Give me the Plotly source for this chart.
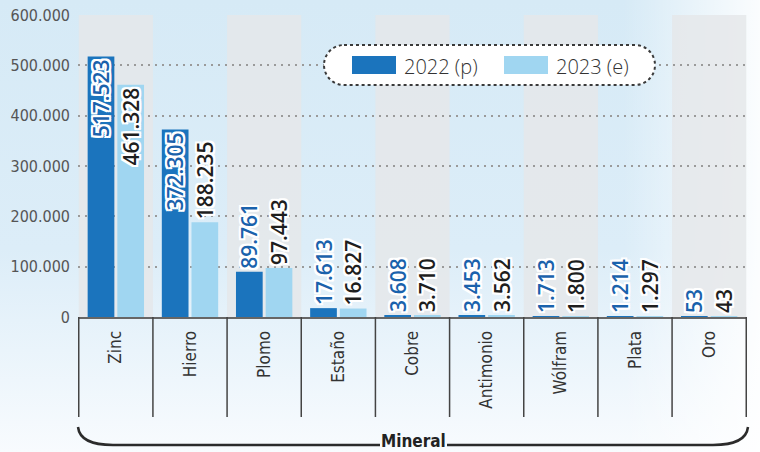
import base64
import plotly.graph_objects as go

# ---------------- data ----------------
minerals = ["Zinc", "Hierro", "Plomo", "Estaño", "Cobre", "Antimonio", "Wólfram", "Plata", "Oro"]
name_2022 = "2022 (p)"
name_2023 = "2023 (e)"
values_2022 = [517523, 372305, 89761, 17613, 3608, 3453, 1713, 1214, 53]
values_2023 = [461328, 188235, 97443, 16827, 3710, 3562, 1800, 1297, 43]
y_ticks = [0, 100000, 200000, 300000, 400000, 500000, 600000]
x_title = "Mineral"

# ---------------- styling ----------------
W_FIG, H_FIG = 760, 452
L, R, T, B = 78, 747, 15, 317
PW, PH = R - L, B - T

def px(x):
    return (x - L) / PW

def py(y):
    return (B - y) / PH

DARK = "#1b74bd"
LIGHT = "#a0d6f1"
LABEL_BLUE = "#1a62ac"
NUM_FONT = "Open Sans, Roboto, sans-serif"
COND_FONT = "DejaVu Sans Condensed, Liberation Sans Narrow, sans-serif"
HALO = ("1px 1px 0 #fff, -1px -1px 0 #fff, 1px -1px 0 #fff, -1px 1px 0 #fff, "
        "2px 0 0 #fff, -2px 0 0 #fff, 0 2px 0 #fff, 0 -2px 0 #fff, "
        "2px 2px 0 #fff, -2px -2px 0 #fff, 2px -2px 0 #fff, -2px 2px 0 #fff")

def positions(vals):
    return ["inside" if v > 250000 else "outside" for v in vals]

fig = go.Figure()
for name, vals, col, tcol in [(name_2022, values_2022, DARK, LABEL_BLUE),
                              (name_2023, values_2023, LIGHT, "#1e1e1e")]:
    fig.add_trace(go.Bar(
        x=minerals, y=vals, name=name,
        marker=dict(color=col, line=dict(width=0)),
        texttemplate="%{y:,.0f}",
        textposition=positions(vals),
        insidetextanchor="end",
        textangle=-90,
        constraintext="none",
        cliponaxis=False,
        textfont=dict(family=NUM_FONT, size=21, color=tcol, weight=600, shadow=HALO),
        showlegend=False,
        hoverinfo="skip",
    ))

shapes = []
# alternating column bands
for i in range(0, len(minerals), 2):
    shapes.append(dict(type="rect", xref="x", yref="paper", x0=i - 0.5, x1=i + 0.5,
                       y0=0, y1=1, fillcolor="rgba(229,231,234,0.85)",
                       line=dict(width=0), layer="below"))
# dividers below axis
for i in range(len(minerals) + 1):
    shapes.append(dict(type="line", xref="x", yref="paper", x0=i - 0.5, x1=i - 0.5,
                       y0=0, y1=py(417), line=dict(color="#444", width=1.5)))

def P(x, y):
    return f"{px(x):.5f},{py(y):.5f}"

# brace
brace_left = f"M {P(78,427)} Q {P(80,445)} {P(113,445)} L {P(380,445)}"
brace_right = f"M {P(447,445)} L {P(713,445)} Q {P(746,445)} {P(748,427)}"
for path in (brace_left, brace_right):
    shapes.append(dict(type="path", xref="paper", yref="paper", path=path,
                       line=dict(color="#2b2b2b", width=2.5)))

# legend pill
k = 11.05
pill = (f"M {P(344,45)} L {P(635,45)} C {P(635+k,45)} {P(655,65-k)} {P(655,65)} "
        f"C {P(655,65+k)} {P(635+k,85)} {P(635,85)} L {P(344,85)} "
        f"C {P(344-k,85)} {P(324,65+k)} {P(324,65)} C {P(324,65-k)} {P(344-k,45)} {P(344,45)} Z")
shapes.append(dict(type="path", xref="paper", yref="paper", path=pill,
                   fillcolor="white", line=dict(color="#3a3a3a", width=2, dash="dot"),
                   layer="above"))
# legend swatches
shapes.append(dict(type="rect", xref="paper", yref="paper", x0=px(352), x1=px(396),
                   y0=py(74), y1=py(56), fillcolor=DARK, line=dict(width=0), layer="above"))
shapes.append(dict(type="rect", xref="paper", yref="paper", x0=px(504), x1=px(548),
                   y0=py(74), y1=py(56), fillcolor=LIGHT, line=dict(width=0), layer="above"))

annotations = [
    dict(x=px(402), y=py(66), xref="paper", yref="paper", text=name_2022, showarrow=False,
         xanchor="left", yanchor="middle",
         font=dict(family=NUM_FONT, size=20, color="#333", weight=300)),
    dict(x=px(554), y=py(66), xref="paper", yref="paper", text=name_2023, showarrow=False,
         xanchor="left", yanchor="middle",
         font=dict(family=NUM_FONT, size=20, color="#333", weight=300)),
    dict(x=px(413), y=py(441), xref="paper", yref="paper", text=f"<b>{x_title}</b>",
         showarrow=False, xanchor="center", yanchor="middle",
         font=dict(family=COND_FONT, size=17, color="#222")),
]

# background gradient
svg = f'''<svg xmlns="http://www.w3.org/2000/svg" width="{W_FIG}" height="{H_FIG}" viewBox="0 0 {W_FIG} {H_FIG}" preserveAspectRatio="none">
<defs>
<linearGradient id="v" x1="0" y1="0" x2="0" y2="1">
<stop offset="0" stop-color="#d6eaf6"/>
<stop offset="0.55" stop-color="#dcedf8"/>
<stop offset="1" stop-color="#f8fbfe"/>
</linearGradient>
<linearGradient id="h" x1="0" y1="0" x2="1" y2="0">
<stop offset="0" stop-color="#ffffff" stop-opacity="0"/>
<stop offset="0.82" stop-color="#ffffff" stop-opacity="0"/>
<stop offset="1" stop-color="#ffffff" stop-opacity="0.9"/>
</linearGradient>
</defs>
<rect width="{W_FIG}" height="{H_FIG}" fill="url(#v)"/>
<rect width="{W_FIG}" height="{H_FIG}" fill="url(#h)"/>
</svg>'''
src = "data:image/svg+xml;base64," + base64.b64encode(svg.encode()).decode()

fig.update_layout(
    width=W_FIG, height=H_FIG,
    margin=dict(l=L, r=W_FIG - R, t=T, b=H_FIG - B, autoexpand=False),
    paper_bgcolor="#eef6fb",
    plot_bgcolor="rgba(0,0,0,0)",
    separators=",.",
    barmode="group",
    bargap=0.2,
    bargroupgap=0.1,
    showlegend=False,
    hovermode=False,
    shapes=shapes,
    annotations=annotations,
    images=[dict(source=src, xref="paper", yref="paper", x=px(0), y=py(0),
                 sizex=W_FIG / PW, sizey=H_FIG / PH, xanchor="left", yanchor="top",
                 sizing="stretch", layer="below")],
    xaxis=dict(type="category", tickangle=-90, showline=True, linecolor="#666",
               linewidth=2, showgrid=False, ticks="", layer="below traces",
               tickfont=dict(family=COND_FONT, size=17, color="#333"),
               ticklabelstandoff=5),
    yaxis=dict(range=[0, 600000], tickvals=y_ticks, tickformat=",.0f",
               showgrid=True, gridcolor="#9a9a9a", gridwidth=1.5, griddash="2px,5px",
               zeroline=False, showline=False, ticks="",
               tickfont=dict(family=COND_FONT, size=16, color="#555"),
               ticklabelstandoff=7),
)

fig.write_html("out.html", config={"displayModeBar": False},
               post_script="document.body.style.margin='0';")
